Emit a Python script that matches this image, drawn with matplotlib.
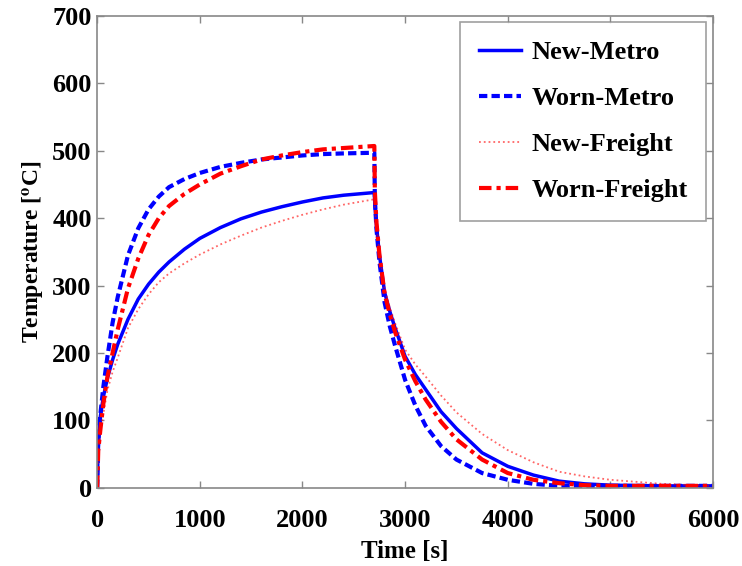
import numpy as np
from matplotlib import pyplot as plt

# time samples [s]: heating up to 2700 s, then cooling
time_s = [0, 10, 30, 60, 100, 150, 200, 300, 400, 500, 600, 700, 850, 1000, 1200, 1400, 1600,
          1800, 2000, 2200, 2400, 2700,
          2705, 2720, 2750, 2800, 2850, 2900, 3000, 3100, 3200, 3350, 3500, 3750, 4000, 4250,
          4500, 4750, 5000, 5500, 6000]

# temperature [C]
new_metro = [0, 60, 105, 135, 163, 190, 213, 250, 280, 302, 320, 335, 354, 370, 386, 399, 409,
             417, 424, 430, 434, 438,
             420, 390, 345, 290, 262, 238, 195, 168, 146, 113, 88, 52, 32, 19,
             10, 6, 4, 3, 3]
worn_metro = [0, 70, 108, 150, 195, 245, 283, 345, 385, 413, 432, 446, 458, 467, 476, 482, 487,
              490, 493, 495, 496, 497,
              430, 385, 335, 275, 240, 212, 160, 122, 92, 62, 42, 22, 12, 6,
              3, 3, 3, 3, 3]
new_freight = [0, 55, 80, 110, 145, 172, 193, 237, 265, 287, 305, 318, 333, 346, 361, 374, 386,
               396, 405, 413, 420, 428,
               415, 390, 350, 295, 268, 245, 205, 183, 165, 137, 112, 80, 56, 38,
               24, 17, 12, 6, 3]
worn_freight = [0, 55, 85, 125, 165, 200, 235, 296, 340, 375, 400, 418, 436, 450, 466, 477, 487,
                493, 498, 502, 504, 507,
                440, 395, 345, 288, 258, 232, 190, 158, 131, 98, 72, 42, 22, 12,
                7, 4, 3, 3, 3]

x_ticks = [0, 1000, 2000, 3000, 4000, 5000, 6000]
y_ticks = [0, 100, 200, 300, 400, 500, 600, 700]


def main():
    plt.rcParams['font.family'] = ['Liberation Serif', 'DejaVu Serif']
    plt.rcParams['font.weight'] = 'bold'
    plt.rcParams['mathtext.fontset'] = 'stix'

    fig = plt.figure(figsize=(7.42, 5.66), dpi=100)
    ax = fig.add_axes([0.131, 0.138, 0.830, 0.834])

    t = np.array(time_s)
    ax.plot(t, new_metro, color='blue', lw=2.5, ls='-', label='New-Metro')
    ax.plot(t, worn_metro, color='blue', lw=3, ls=(0, (2.0, 1.0)), label='Worn-Metro')
    ax.plot(t, new_freight, color='red', lw=1.3, ls=':', alpha=0.6, label='New-Freight')
    ax.plot(t, worn_freight, color='red', lw=3, ls=(0, (3.0, 1.2, 1.0, 1.2)), label='Worn-Freight')

    ax.set_xlim(0, 6000)
    ax.set_ylim(0, 700)
    ax.set_xticks(x_ticks)
    ax.set_yticks(y_ticks)
    ax.tick_params(direction='in', top=True, right=True, length=5, width=1,
                   color='#888888', labelsize=19)
    ax.tick_params(axis='x', pad=15)
    ax.tick_params(axis='y', pad=4)
    for lab in ax.get_xticklabels() + ax.get_yticklabels():
        lab.set_fontweight('bold')
    for sp in ax.spines.values():
        sp.set_color('#888888')
        sp.set_linewidth(1.2)

    ax.set_xlabel('Time [s]', fontsize=18, fontweight='bold', labelpad=6)
    ax.set_ylabel(r'Temperature [$^{\mathbf{o}}$C]', fontsize=17, fontweight='bold', labelpad=4)

    leg = ax.legend(loc='upper right', fontsize=19, frameon=True, fancybox=False,
                    edgecolor='#888888', handlelength=1.6, handletextpad=0.4,
                    labelspacing=0.85, borderaxespad=0.25, borderpad=0.7)
    leg.get_frame().set_linewidth(1.2)
    for txt in leg.get_texts():
        txt.set_fontweight('bold')

    fig.savefig('out.png', dpi=100)


if __name__ == '__main__':
    main()
